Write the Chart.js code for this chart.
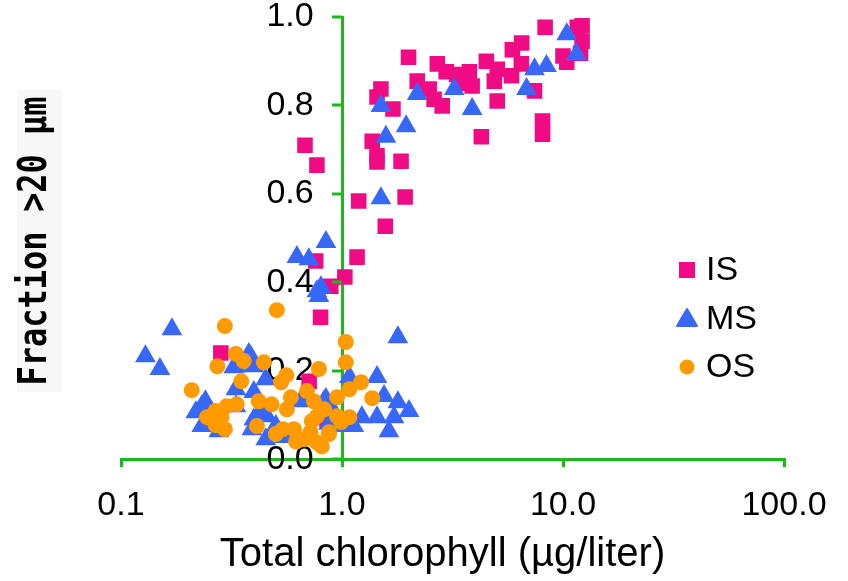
<!DOCTYPE html>
<html>
<head>
<meta charset="utf-8">
<script src="https://cdn.jsdelivr.net/npm/chart.js@4/dist/chart.umd.min.js"></script>
<style>
  html, body { margin: 0; padding: 0; background: #fff; }
  #grafico { display: block; }
</style>
</head>
<body>
<canvas id="grafico" width="848" height="581"></canvas>
<script>
// Fracción >20 µm frente a clorofila total, por zona (IS, MS, OS)
const isX = [11.6, 8.3, 6.5, 5.9, 10.0, 10.4, 12.2, 12.2, 12.0, 2.0, 1.5, 1.44, 1.7, 2.19, 2.7, 2.96, 2.48, 2.61, 2.84,
  3.3, 3.5, 3.77, 3.88, 4.5, 4.89, 5.04, 5.04, 4.27, 5.85, 6.48, 7.43, 8.08, 8.08, 1.37, 1.44, 1.44, 1.85, 1.19, 1.93,
  1.57, 1.17, 1.03, 0.89, 0.76, 0.80, 0.68, 0.77, 0.283, 0.71, 0.81, 0.855];
const isY = [0.977, 0.977, 0.941, 0.926, 0.912, 0.898, 0.98, 0.945, 0.918, 0.909, 0.837, 0.819, 0.792, 0.855, 0.894, 0.876, 0.837, 0.814, 0.799,
  0.87, 0.85, 0.876, 0.844, 0.9, 0.855, 0.882, 0.81, 0.729, 0.867, 0.894, 0.833, 0.765, 0.735, 0.719, 0.686, 0.672, 0.674, 0.584, 0.593,
  0.527, 0.457, 0.412, 0.391, 0.448, 0.321, 0.71, 0.665, 0.24, 0.176, 0.106, 0.09];

const msX = [10.4, 11.5, 8.42, 7.43, 6.84, 3.88, 3.22, 2.19, 1.95, 1.5, 1.58, 1.5, 0.846, 0.625, 0.708, 0.803, 0.786, 0.77,
  0.129, 0.17, 0.15, 1.79, 1.44, 1.08, 1.79, 2.01, 1.55, 1.23, 1.44, 1.72, 1.13, 1.63, 0.90,
  0.232, 0.249, 0.277, 0.331, 0.387, 0.399, 0.452, 0.399, 0.331, 0.399, 0.452, 0.502, 0.659, 0.846, 0.94,
  0.218, 0.379, 0.324, 0.331, 0.241, 0.43, 0.232, 0.391, 0.457, 0.652, 0.83, 0.92, 0.55, 0.87];
const msY = [0.961, 0.916, 0.889, 0.882, 0.837, 0.792, 0.837, 0.826, 0.753, 0.799, 0.729, 0.59, 0.491, 0.457, 0.452, 0.389, 0.369, 0.38,
  0.233, 0.294, 0.204, 0.276, 0.186, 0.186, 0.129, 0.109, 0.143, 0.095, 0.095, 0.095, 0.075, 0.063, 0.09,
  0.12, 0.086, 0.063, 0.21, 0.231, 0.21, 0.181, 0.152, 0.12, 0.09, 0.045, 0.075, 0.136, 0.136, 0.075,
  0.106, 0.238, 0.208, 0.158, 0.131, 0.109, 0.075, 0.068, 0.097, 0.131, 0.131, 0.106, 0.05, 0.08];

const osX = [0.295, 0.507, 0.209, 0.273, 0.331, 0.359, 0.35, 0.443, 0.42, 0.334, 0.301, 0.268, 0.245, 0.285, 0.295, 0.412, 0.268,
  1.04, 1.04, 0.786, 0.53, 0.694, 0.587, 0.48, 0.746, 0.563, 0.95, 0.83, 0.77, 0.95, 0.73, 0.606, 0.72, 0.873, 0.673, 0.77, 0.81,
  1.22, 1.08, 1.37, 1.08, 0.99, 0.873, 0.502, 0.54, 0.62, 0.56];
const osY = [0.301, 0.337, 0.156, 0.21, 0.238, 0.222, 0.176, 0.219, 0.131, 0.124, 0.12, 0.109, 0.095, 0.095, 0.068, 0.075, 0.077,
  0.265, 0.219, 0.204, 0.174, 0.154, 0.14, 0.124, 0.131, 0.113, 0.14, 0.113, 0.097, 0.097, 0.086, 0.068, 0.061, 0.061, 0.045, 0.038, 0.029,
  0.174, 0.158, 0.138, 0.095, 0.084, 0.057, 0.057, 0.068, 0.04, 0.19];

const xTicks = [0.1, 1, 10, 100];
const xTickLabels = ['0.1', '1.0', '10.0', '100.0'];
const yTicks = [0, 0.2, 0.4, 0.6, 0.8, 1.0];
const yTickLabels = ['0.0', '0.2', '0.4', '0.6', '0.8', '1.0'];
const seriesNames = ['IS', 'MS', 'OS'];

const colorIS = '#F00A84';
const colorMS = '#3868FA';
const colorOS = '#FF9A00';
const verde = '#1EB71E';
const fuente = "'Liberation Sans', Arial, sans-serif";

function puntos(xs, ys) {
  return xs.map((x, i) => ({ x: x, y: ys[i] }));
}

// Marcas del eje Y, títulos de ejes y leyenda dentro del área
const extras = {
  id: 'extras',
  afterDraw(chart) {
    const ctx = chart.ctx;
    const area = chart.chartArea;
    const sx = chart.scales.x;
    const sy = chart.scales.y;

    // marcas cortas hacia la izquierda del eje que cruza en x = 1
    const x0 = sx.getPixelForValue(1);
    ctx.save();
    ctx.strokeStyle = verde;
    ctx.lineWidth = 3;
    yTicks.forEach(v => {
      const py = Math.round(sy.getPixelForValue(v));
      ctx.beginPath();
      ctx.moveTo(x0, py);
      ctx.lineTo(x0 - 10, py);
      ctx.stroke();
    });
    ctx.restore();

    // título eje X, algo desplazado a la izquierda del centro
    ctx.save();
    ctx.fillStyle = '#000';
    ctx.font = '40px ' + fuente;
    ctx.textAlign = 'center';
    ctx.textBaseline = 'middle';
    ctx.fillText('Total chlorophyll (µg/liter)', (area.left + area.right) / 2 - 10, 555);
    ctx.restore();

    // título eje Y con fondo gris
    ctx.save();
    ctx.fillStyle = '#F7F7F7';
    ctx.fillRect(17, 90, 45, 302);
    ctx.translate(36, 241);
    ctx.rotate(-Math.PI / 2);
    ctx.scale(1, 1.2);
    ctx.fillStyle = '#000';
    ctx.font = "bold 32px 'DejaVu Sans Mono', monospace";
    ctx.textAlign = 'center';
    ctx.textBaseline = 'middle';
    ctx.fillText('Fraction >20 µm', 0, 0);
    ctx.restore();

    const colores = [colorIS, colorMS, colorOS];
    const ys = [270, 319, 367];
    ctx.save();
    ctx.font = '34px ' + fuente;
    ctx.textBaseline = 'middle';
    ctx.textAlign = 'left';
    seriesNames.forEach((nombre, i) => {
      const cx = 687, cy = ys[i];
      ctx.fillStyle = colores[i];
      ctx.strokeStyle = colores[i];
      ctx.lineJoin = 'round';
      ctx.lineWidth = 2;
      if (i === 0) {
        ctx.fillRect(cx - 8, cy - 8, 16, 16);
      } else if (i === 1) {
        ctx.beginPath();
        ctx.moveTo(cx, cy - 10);
        ctx.lineTo(cx + 10, cy + 7);
        ctx.lineTo(cx - 10, cy + 7);
        ctx.closePath();
        ctx.fill();
        ctx.stroke();
      } else {
        ctx.beginPath();
        ctx.arc(cx, cy, 7.5, 0, Math.PI * 2);
        ctx.fill();
      }
      ctx.fillStyle = '#000';
      ctx.fillText(nombre, 706, cy + 1);
    });
    ctx.restore();
  }
};

const ctx = document.getElementById('grafico').getContext('2d');
const grafico = new Chart(ctx, {
  type: 'scatter',
  data: {
    datasets: [
      {
        label: seriesNames[0],
        data: puntos(isX, isY),
        pointStyle: 'rect',
        pointRadius: 11,
        borderWidth: 0,
        backgroundColor: colorIS,
        borderColor: colorIS,
        order: 3
      },
      {
        label: seriesNames[1],
        data: puntos(msX, msY),
        pointStyle: 'triangle',
        pointRadius: 10,
        borderWidth: 2,
        backgroundColor: colorMS,
        borderColor: colorMS,
        order: 2
      },
      {
        label: seriesNames[2],
        data: puntos(osX, osY),
        pointStyle: 'circle',
        pointRadius: 8,
        borderWidth: 0,
        backgroundColor: colorOS,
        borderColor: colorOS,
        order: 1
      }
    ]
  },
  options: {
    responsive: false,
    animation: false,
    events: [],
    layout: { padding: { left: 121, right: 64, top: 17, bottom: 37 } },
    plugins: {
      legend: { display: false },
      tooltip: { enabled: false }
    },
    scales: {
      x: {
        type: 'logarithmic',
        min: 0.1,
        max: 100,
        afterBuildTicks: (s) => { s.ticks = xTicks.map(v => ({ value: v })); },
        ticks: {
          callback: (v, i) => xTickLabels[i],
          font: { family: fuente, size: 34 },
          color: '#000',
          padding: 18,
          maxRotation: 0,
          autoSkip: false
        },
        grid: { drawOnChartArea: false, drawTicks: true, tickLength: 8, color: verde, lineWidth: 3 },
        border: { color: verde, width: 3 }
      },
      y: {
        type: 'linear',
        min: 0,
        max: 1,
        position: { x: 1 },
        z: 1,
        afterBuildTicks: (s) => { s.ticks = yTicks.map(v => ({ value: v })); },
        ticks: {
          // el eje cruza en x = 1; los espacios separan la etiqueta de la marca
          callback: (v, i) => yTickLabels[i] + '   ',
          font: { family: fuente, size: 34, lineHeight: 0.9 },
          color: '#000',
          padding: 0
        },
        grid: { drawOnChartArea: false, drawTicks: false },
        border: { color: verde, width: 3 }
      }
    }
  },
  plugins: [extras]
});
</script>
</body>
</html>
